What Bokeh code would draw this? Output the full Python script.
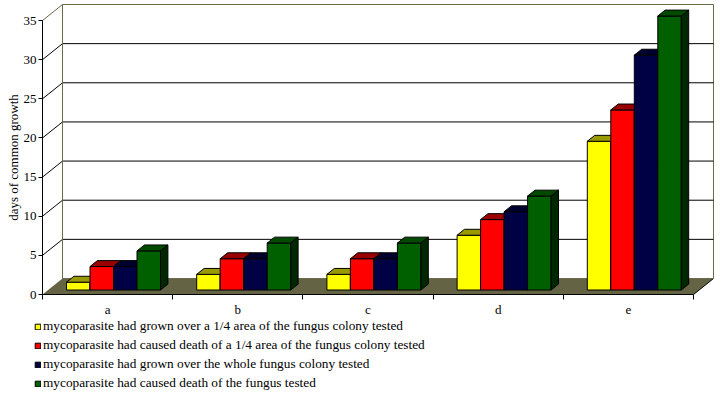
from bokeh.plotting import figure
from bokeh.models import Range1d, FixedTicker, Legend, LegendItem
from bokeh.embed import file_html
from bokeh.resources import INLINE

# ---------------- data ----------------
categories = ["a", "b", "c", "d", "e"]
series_labels = [
    "mycoparasite had grown over a 1/4 area of the fungus colony tested",
    "mycoparasite had caused death of a 1/4 area of the fungus colony tested",
    "mycoparasite had grown over the whole fungus colony tested",
    "mycoparasite had caused death of the fungus tested",
]
grown_quarter = [1, 2, 2, 7, 19]
death_quarter = [3, 4, 4, 9, 23]
grown_whole = [3, 4, 4, 10, 30]
death_whole = [5, 6, 6, 12, 35]
y_ticks = [0, 5, 10, 15, 20, 25, 30, 35]
y_max = 35

series_values = [grown_quarter, death_quarter, grown_whole, death_whole]
front_colors = ["#FFFF00", "#FF0000", "#000044", "#006000"]
top_colors = ["#999900", "#990000", "#00002e", "#004a00"]
side_colors = ["#7a7a00", "#7a0000", "#000022", "#002800"]

FONT = "Liberation Serif"
OLIVE = "#6b6b4b"
FLOOR = "#646444"

# ---------------- geometry (pixels) ----------------
W_FIG, H_FIG = 720, 395
RIGHT = 6
FRAME_W = W_FIG - RIGHT
FRAME_H = H_FIG
ZERO_X = 42         # pixel column of the value axis
ZERO_Y = 294        # pixel row of value 0 from the top of the frame
SX = 130.2          # px per category
SY = 274.0 / 35.0   # px per unit value
DX = 20.0 / SX      # depth offset in x data units
DY = 16.0 / SY      # depth offset in y data units
Z0, Z1 = 0.28, 0.65 # bar depth fractions
GAP = 18.4 / SX
BW = 23.5 / SX

ncat = len(categories)

p = figure(width=W_FIG, height=H_FIG, output_backend="svg", toolbar_location=None,
           x_range=Range1d(-ZERO_X / SX, (FRAME_W - ZERO_X) / SX),
           y_range=Range1d(-(FRAME_H - ZERO_Y) / SY, ZERO_Y / SY),
           min_border_left=0, min_border_top=0, min_border_right=RIGHT,
           min_border_bottom=0)
p.outline_line_color = None
p.xgrid.visible = False
p.ygrid.visible = False
p.background_fill_color = "white"
p.border_fill_color = "white"

# floor
p.patch([0, ncat, ncat + DX, DX], [0, 0, DY, DY], fill_color=FLOOR, line_color=None)
p.segment(x0=[ncat], y0=[0], x1=[ncat + DX], y1=[DY], line_color="black", line_width=1)

# back wall
p.quad(left=[DX], right=[ncat + DX], bottom=[DY], top=[y_max + DY],
       fill_color="white", line_color=OLIVE, line_width=1)

# gridlines on wall and diagonals on the side
inner = [t for t in y_ticks if 0 < t < y_max]
p.segment(x0=[DX] * len(inner), y0=[t + DY for t in inner],
          x1=[ncat + DX] * len(inner), y1=[t + DY for t in inner],
          line_color="black", line_width=1)
p.segment(x0=[0] * len(inner), y0=inner, x1=[DX] * len(inner),
          y1=[t + DY for t in inner], line_color="black", line_width=1)
p.segment(x0=[0], y0=[y_max], x1=[DX], y1=[y_max + DY], line_color=OLIVE, line_width=1)
p.segment(x0=[DX], y0=[DY], x1=[DX], y1=[y_max + DY], line_color=OLIVE, line_width=1)

# bars
dzx = (Z1 - Z0) * DX
dzy = (Z1 - Z0) * DY
items = []
for j, vals in enumerate(series_values):
    lefts = [i + GAP + j * BW + Z0 * DX for i in range(ncat)]
    rights = [l + BW for l in lefts]
    bots = [Z0 * DY] * ncat
    tops = [v + Z0 * DY for v in vals]
    front = p.quad(left=lefts, right=rights, bottom=bots, top=tops,
                   fill_color=front_colors[j], line_color="black", line_width=1)
    p.patches(xs=[[l, r, r + dzx, l + dzx] for l, r in zip(lefts, rights)],
              ys=[[t, t, t + dzy, t + dzy] for t in tops],
              fill_color=top_colors[j], line_color="black", line_width=1)
    p.patches(xs=[[r, r + dzx, r + dzx, r] for r in rights],
              ys=[[b, b + dzy, t + dzy, t] for b, t in zip(bots, tops)],
              fill_color=side_colors[j], line_color="black", line_width=1)
    items.append(LegendItem(label=series_labels[j], renderers=[front]))

# axes
ya = p.yaxis[0]
ya.fixed_location = 0
ya.ticker = FixedTicker(ticks=y_ticks, minor_ticks=[])
ya.bounds = (0, y_max)
ya.axis_label = "days of common growth"
ya.axis_label_text_font = FONT
ya.axis_label_text_font_size = "13px"
ya.axis_label_text_font_style = "normal"
ya.axis_label_text_color = "black"
ya.axis_label_standoff = 0
ya.major_label_text_font = FONT
ya.major_label_text_font_size = "13px"
ya.major_label_text_color = "black"
ya.major_label_standoff = 2
ya.major_tick_in = 0
ya.major_tick_out = 4
ya.minor_tick_line_color = None
ya.axis_line_color = "black"
ya.major_tick_line_color = "black"

xa = p.xaxis[0]
centers = [i + 0.5 for i in range(ncat)]
xa.fixed_location = 0
xa.ticker = FixedTicker(ticks=centers, minor_ticks=list(range(ncat + 1)))
xa.major_label_overrides = {c: lab for c, lab in zip(centers, categories)}
xa.bounds = (0, ncat)
xa.major_tick_line_color = None
xa.major_tick_in = 0
xa.major_tick_out = 5
xa.minor_tick_in = 0
xa.minor_tick_out = 5
xa.minor_tick_line_color = "black"
xa.axis_line_color = "black"
xa.major_label_standoff = 2
xa.major_label_text_font = FONT
xa.major_label_text_font_size = "13px"
xa.major_label_text_color = "black"

legend = Legend(items=items, location=(34, 3), orientation="vertical",
                glyph_width=7, glyph_height=7, label_height=18, spacing=1,
                padding=0, margin=0, label_standoff=2,
                label_text_font=FONT, label_text_font_size="13.3px",
                label_text_color="black",
                border_line_color=None, background_fill_alpha=0)
p.add_layout(legend)

open("out.html", "w").write(file_html(p, INLINE))
